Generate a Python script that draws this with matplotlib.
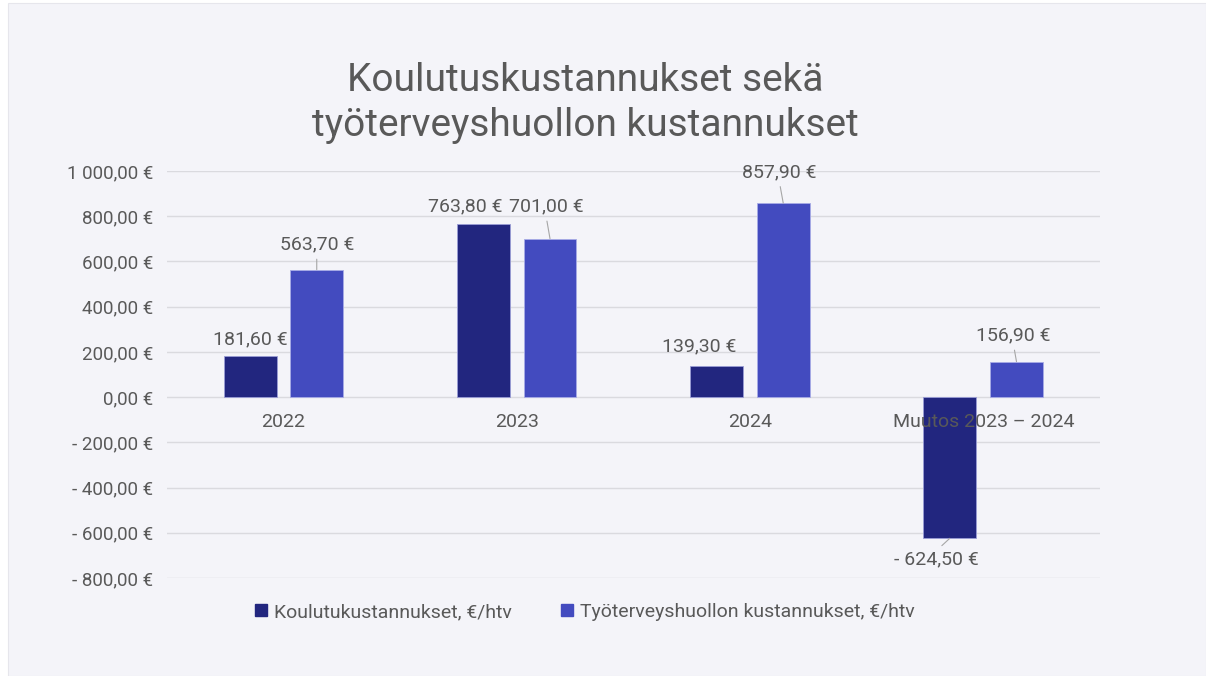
import matplotlib
matplotlib.use('Agg')
import matplotlib.pyplot as plt
from matplotlib.patches import Rectangle
import numpy as np

# Data
categories = ['2022', '2023', '2024', 'Muutos 2023 – 2024']
koulutus = [181.6, 763.8, 139.3, -624.5]
tyoterveys = [563.7, 701.0, 857.9, 156.9]
series_names = ['Koulutukustannukset, €/htv', 'Työterveyshuollon kustannukset, €/htv']
title = 'Koulutuskustannukset sekä\ntyöterveyshuollon kustannukset'
yticks = [-800, -600, -400, -200, 0, 200, 400, 600, 800, 1000]

# label offsets in pixels (dx, dy) and whether a leader line is drawn
off_k = [(0, 17), (-18, 18), (-17, 19), (-13, -21)]
lead_k = [False, False, False, True]
off_t = [(0, 25), (-4, 32), (-4, 31), (-3, 26)]
lead_t = [True, True, True, True]

dark = '#22267F'
light = '#434BBF'
txt = '#595959'

plt.rcParams['font.family'] = ['Roboto', 'DejaVu Sans']


def fmt(v):
    s = f'{abs(v):,.2f}'.replace(',', ' ').replace('.', ',')
    return ('- ' if v < 0 else '') + s + ' €'


fig = plt.figure(figsize=(12.06, 6.76), dpi=100)
fig.patch.set_facecolor('white')
fig.patches.append(Rectangle((8 / 1206, 0), 1 - 8 / 1206, 1 - 3 / 676,
                             transform=fig.transFigure, facecolor='#F4F4F9',
                             edgecolor='#E6E6EC', lw=0.8, zorder=-10))

ax = fig.add_axes([167 / 1206, 1 - 578 / 676, (1100 - 167) / 1206, (578 - 171) / 676])
ax.set_facecolor('none')

x = np.arange(len(categories))
w = 0.227
b1 = ax.bar(x - 0.144, koulutus, w, color=dark, edgecolor='#9A9DD6', linewidth=0.6, zorder=2)
b2 = ax.bar(x + 0.142, tyoterveys, w, color=light, edgecolor='#A8ACE6', linewidth=0.6, zorder=2)

ax.set_xlim(-0.5, 3.5)
ax.set_ylim(-800, 1000)
ax.set_yticks(yticks)
ax.set_yticklabels([fmt(v) for v in yticks])
ax.tick_params(axis='y', length=0, pad=10, labelsize=13.5, labelcolor=txt)
ax.set_xticks([])
for s in ax.spines.values():
    s.set_visible(False)
ax.grid(axis='y', color='#DADADF', linewidth=1, zorder=0)
ax.set_axisbelow(True)

# category labels just under the zero line
for i, c in enumerate(categories):
    ax.annotate(c, (i, 0), xytext=(0, -25), textcoords='offset pixels',
                ha='center', va='center', fontsize=14, color=txt, zorder=5)


def label(bars, vals, offs, leads):
    for bar, v, (dx, dy), ld in zip(bars, vals, offs, leads):
        xc = bar.get_x() + bar.get_width() / 2
        kw = {}
        if ld:
            kw['arrowprops'] = dict(arrowstyle='-', color='#A6A6A6', lw=0.8,
                                    shrinkA=2, shrinkB=0,
                                    relpos=(0.5, 0) if dy > 0 else (0.5, 1))
        ax.annotate(fmt(v), (xc, v), xytext=(dx, dy), textcoords='offset pixels',
                    ha='center', va='center', fontsize=14, color=txt, zorder=6, **kw)


label(b1, koulutus, off_k, lead_k)
label(b2, tyoterveys, off_t, lead_t)

fig.text(585 / 1206, 1 - 103 / 676, title, ha='center', va='center',
         fontsize=28, color=txt, linespacing=1.25)

handles = [Rectangle((0, 0), 1, 1, color=dark), Rectangle((0, 0), 1, 1, color=light)]
fig.legend(handles, series_names, loc='center', bbox_to_anchor=(585 / 1206, 1 - 612 / 676),
           ncol=2, frameon=False, fontsize=14, labelcolor=txt, handlelength=0.6,
           handleheight=0.6, handletextpad=0.4, columnspacing=2.5)

fig.savefig('out.png', dpi=100, facecolor=fig.get_facecolor())
